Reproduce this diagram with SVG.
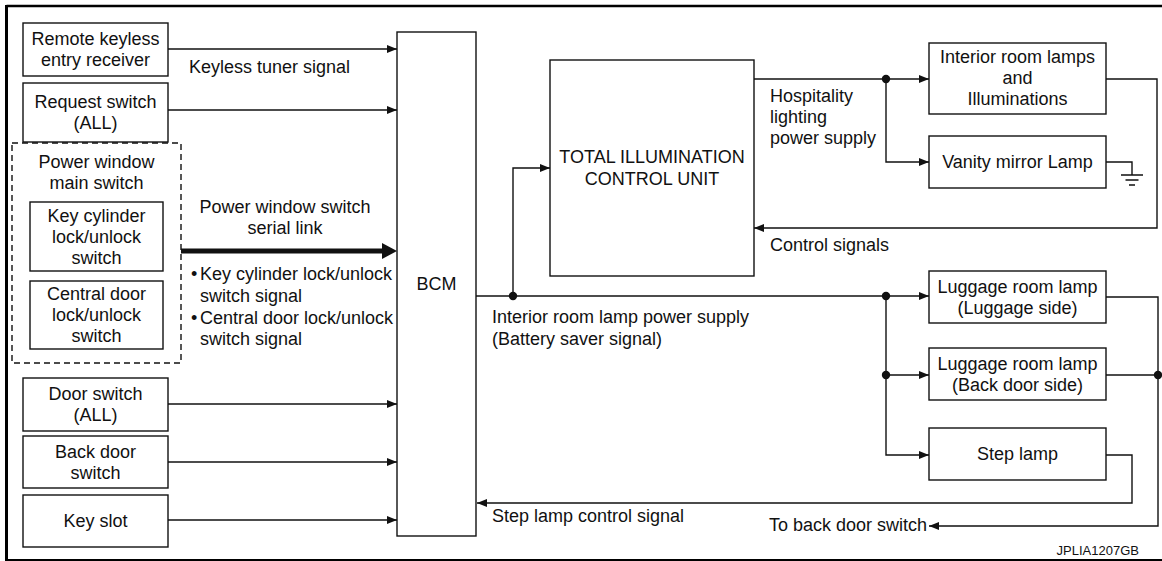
<svg xmlns="http://www.w3.org/2000/svg" width="1162" height="561" viewBox="0 0 1162 561">
  <style>
    .box { fill: #fff; stroke: #111; stroke-width: 1.4; }
    .dash { fill: none; stroke: #111; stroke-width: 1.4; stroke-dasharray: 6 4; }
    .wire { fill: none; stroke: #111; stroke-width: 1.4; }
    .arr { fill: none; stroke: #111; stroke-width: 1.4; marker-end: url(#head); }
    .frame { fill: none; stroke: #000; }
    text { font-family: "Liberation Sans", Arial, Helvetica, sans-serif; font-size: 18px; fill: #111; }
    .c { text-anchor: middle; }
    .small { font-size: 13px; }
    .dot { fill: #111; }
  </style>
  <defs>
    <marker id="head" markerUnits="userSpaceOnUse" markerWidth="11" markerHeight="9" refX="10" refY="4" orient="auto">
      <path d="M0,0 L10,4 L0,8 z" fill="#111"/>
    </marker>
  </defs>

  <rect width="1162" height="561" fill="#fff"/>

  <!-- page frame: heavy top and left rule, lighter bottom rule -->
  <g id="frame">
    <path class="frame" d="M6.5,6 H1162" stroke-width="2.6"/>
    <path class="frame" d="M6.5,5 V561" stroke-width="3"/>
    <path class="frame" d="M6.5,560 H1162" stroke-width="1.8"/>
  </g>

  <!-- connectors -->
  <g id="connectors">
    <path class="arr" d="M168,49 H397"/>
    <path class="arr" d="M168,110 H397"/>
    <!-- serial link (heavy) -->
    <path d="M181,251 H384" fill="none" stroke="#111" stroke-width="5"/>
    <path d="M382,243 L397,251 L382,259 z" fill="#111"/>
    <path class="arr" d="M168,404 H397"/>
    <path class="arr" d="M168,462 H397"/>
    <path class="arr" d="M168,520 H397"/>

    <!-- BCM interior room lamp power supply -->
    <path class="arr" d="M476,296 H929"/>
    <path class="arr" d="M513,296 V168 H550"/>
    <circle class="dot" cx="513" cy="296" r="4.2"/>

    <!-- hospitality lighting power supply -->
    <path class="arr" d="M754,79 H929"/>
    <path class="arr" d="M886,79 V162 H929"/>
    <circle class="dot" cx="886" cy="79" r="4.2"/>

    <!-- ground at vanity mirror lamp -->
    <path class="wire" d="M1106,162 H1132 V175"/>
    <path class="wire" d="M1121,175 H1143 M1125.5,180 H1138.5 M1129,185 H1135"/>

    <!-- control signals back to TICU -->
    <path class="arr" d="M1106,79 H1157 V228 H754"/>

    <!-- luggage room / step lamp feed -->
    <path class="arr" d="M886,296 V455 H929"/>
    <path class="arr" d="M886,375 H929"/>
    <circle class="dot" cx="886" cy="296" r="4.2"/>
    <circle class="dot" cx="886" cy="375" r="4.2"/>

    <!-- to back door switch -->
    <path class="arr" d="M1106,297 H1158 V526 H929"/>
    <path class="wire" d="M1106,375 H1158"/>
    <circle class="dot" cx="1158" cy="375" r="4.2"/>

    <!-- step lamp control signal -->
    <path class="arr" d="M1106,455 H1132 V503 H477"/>
  </g>

  <!-- connector labels -->
  <g id="labels">
    <text x="189" y="73">Keyless tuner signal</text>
    <text class="c" x="285" y="213">Power window switch</text>
    <text class="c" x="285" y="234">serial link</text>
    <text x="191" y="280">•</text>
    <text x="200" y="280">Key cylinder lock/unlock</text>
    <text x="200" y="302">switch signal</text>
    <text x="191" y="324">•</text>
    <text x="200" y="324">Central door lock/unlock</text>
    <text x="200" y="345">switch signal</text>
    <text x="770" y="102">Hospitality</text>
    <text x="770" y="123">lighting</text>
    <text x="770" y="144">power supply</text>
    <text x="770" y="251">Control signals</text>
    <text x="492" y="323">Interior room lamp power supply</text>
    <text x="492" y="345">(Battery saver signal)</text>
    <text x="492" y="522">Step lamp control signal</text>
    <text x="769" y="531">To back door switch</text>
    <text class="small" x="1139" y="555" text-anchor="end">JPLIA1207GB</text>
  </g>

  <!-- inputs -->
  <g id="remote-keyless">
    <rect class="box" x="23" y="23" width="145" height="53"/>
    <text class="c" x="95.5" y="45">Remote keyless</text>
    <text class="c" x="95.5" y="66">entry receiver</text>
  </g>
  <g id="request-switch">
    <rect class="box" x="23" y="83" width="145" height="59"/>
    <text class="c" x="95.5" y="108">Request switch</text>
    <text class="c" x="95.5" y="129">(ALL)</text>
  </g>
  <g id="power-window-main-switch">
    <rect class="dash" x="12" y="143" width="169" height="220"/>
    <text class="c" x="96.5" y="168">Power window</text>
    <text class="c" x="96.5" y="189">main switch</text>
  </g>
  <g id="key-cylinder-switch">
    <rect class="box" x="30" y="202" width="133" height="69"/>
    <text class="c" x="96.5" y="222">Key cylinder</text>
    <text class="c" x="96.5" y="243">lock/unlock</text>
    <text class="c" x="96.5" y="264">switch</text>
  </g>
  <g id="central-door-switch">
    <rect class="box" x="30" y="281" width="133" height="68"/>
    <text class="c" x="96.5" y="300">Central door</text>
    <text class="c" x="96.5" y="321">lock/unlock</text>
    <text class="c" x="96.5" y="342">switch</text>
  </g>
  <g id="door-switch">
    <rect class="box" x="23" y="378" width="145" height="53"/>
    <text class="c" x="95.5" y="400">Door switch</text>
    <text class="c" x="95.5" y="421">(ALL)</text>
  </g>
  <g id="back-door-switch">
    <rect class="box" x="23" y="436" width="145" height="52"/>
    <text class="c" x="95.5" y="458">Back door</text>
    <text class="c" x="95.5" y="479">switch</text>
  </g>
  <g id="key-slot">
    <rect class="box" x="23" y="495" width="145" height="52"/>
    <text class="c" x="95.5" y="527">Key slot</text>
  </g>

  <!-- control units -->
  <g id="bcm">
    <rect class="box" x="397" y="32" width="79" height="504"/>
    <text class="c" x="436.5" y="290">BCM</text>
  </g>
  <g id="ticu">
    <rect class="box" x="550" y="60" width="204" height="216"/>
    <text class="c" x="652" y="163">TOTAL ILLUMINATION</text>
    <text class="c" x="652" y="185">CONTROL UNIT</text>
  </g>

  <!-- loads -->
  <g id="interior-room-lamps">
    <rect class="box" x="929" y="43" width="177" height="71"/>
    <text class="c" x="1017.5" y="63">Interior room lamps</text>
    <text class="c" x="1017.5" y="84">and</text>
    <text class="c" x="1017.5" y="105">Illuminations</text>
  </g>
  <g id="vanity-mirror-lamp">
    <rect class="box" x="929" y="136" width="177" height="52"/>
    <text class="c" x="1017.5" y="168">Vanity mirror Lamp</text>
  </g>
  <g id="luggage-lamp-luggage-side">
    <rect class="box" x="929" y="271" width="177" height="52"/>
    <text class="c" x="1017.5" y="293">Luggage room lamp</text>
    <text class="c" x="1017.5" y="314">(Luggage side)</text>
  </g>
  <g id="luggage-lamp-back-door-side">
    <rect class="box" x="929" y="348" width="177" height="52"/>
    <text class="c" x="1017.5" y="370">Luggage room lamp</text>
    <text class="c" x="1017.5" y="391">(Back door side)</text>
  </g>
  <g id="step-lamp">
    <rect class="box" x="929" y="428" width="177" height="52"/>
    <text class="c" x="1017.5" y="460">Step lamp</text>
  </g>
</svg>
